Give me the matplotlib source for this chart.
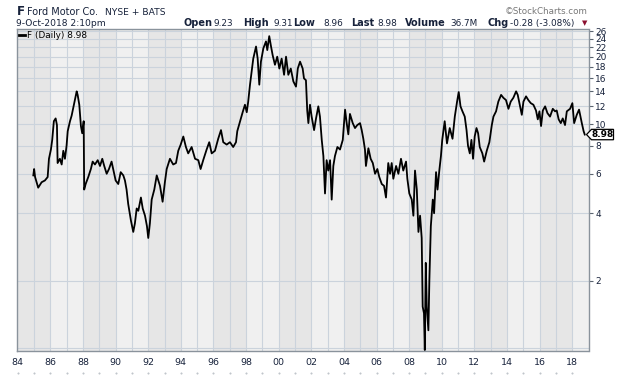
import matplotlib
matplotlib.use('Agg')
import matplotlib.pyplot as plt
from matplotlib.lines import Line2D
from matplotlib.patches import Polygon
from matplotlib.ticker import NullLocator, NullFormatter
from matplotlib.transforms import IdentityTransform, blended_transform_factory

plt.rcParams['font.family'] = ['DejaVu Sans']

# F closing prices (decimal year, USD)
dates = [
    1984.95, 1985.00, 1985.06, 1985.25, 1985.46, 1985.66, 1985.83, 1985.91,
    1986.03, 1986.11, 1986.21, 1986.32, 1986.40, 1986.44, 1986.58, 1986.69,
    1986.79, 1986.89, 1986.99, 1987.06, 1987.20, 1987.30, 1987.46, 1987.61,
    1987.67, 1987.77, 1987.87, 1987.95, 1988.04, 1988.07, 1988.16, 1988.32,
    1988.48, 1988.59, 1988.73, 1988.90, 1989.04, 1989.18, 1989.30, 1989.45,
    1989.59, 1989.75, 1989.85, 1990.00, 1990.16, 1990.31, 1990.47, 1990.57,
    1990.67, 1990.77, 1990.94, 1991.08, 1991.18, 1991.29, 1991.39, 1991.55,
    1991.66, 1991.80, 1991.92, 1992.00, 1992.10, 1992.21, 1992.37, 1992.52,
    1992.72, 1992.88, 1993.02, 1993.13, 1993.33, 1993.53, 1993.70, 1993.84,
    1993.99, 1994.15, 1994.31, 1994.45, 1994.66, 1994.87, 1995.07, 1995.21,
    1995.37, 1995.58, 1995.74, 1995.89, 1996.09, 1996.29, 1996.46, 1996.60,
    1996.81, 1997.01, 1997.21, 1997.38, 1997.46, 1997.63, 1997.79, 1997.93,
    1998.04, 1998.13, 1998.24, 1998.34, 1998.44, 1998.61, 1998.71, 1998.81,
    1998.91, 1999.06, 1999.22, 1999.30, 1999.42, 1999.53, 1999.63, 1999.77,
    1999.91, 2000.04, 2000.18, 2000.33, 2000.45, 2000.59, 2000.74, 2000.90,
    2001.06, 2001.17, 2001.31, 2001.47, 2001.55, 2001.67, 2001.75, 2001.82,
    2001.92, 2002.02, 2002.17, 2002.29, 2002.43, 2002.53, 2002.64, 2002.74,
    2002.84, 2002.94, 2003.04, 2003.15, 2003.25, 2003.35, 2003.45, 2003.60,
    2003.76, 2003.93, 2004.07, 2004.17, 2004.27, 2004.37, 2004.54, 2004.68,
    2004.82, 2004.99, 2005.09, 2005.19, 2005.29, 2005.35, 2005.50, 2005.64,
    2005.77, 2005.91, 2006.05, 2006.17, 2006.32, 2006.46, 2006.58, 2006.72,
    2006.83, 2006.93, 2007.03, 2007.20, 2007.34, 2007.50, 2007.64, 2007.81,
    2007.89, 2008.01, 2008.16, 2008.26, 2008.36, 2008.47, 2008.57, 2008.67,
    2008.77, 2008.83, 2008.91, 2008.96, 2009.02, 2009.08, 2009.18, 2009.24,
    2009.33, 2009.45, 2009.53, 2009.65, 2009.74, 2009.85, 2009.95, 2010.03,
    2010.18, 2010.32, 2010.49, 2010.66, 2010.80, 2010.94, 2011.04, 2011.15,
    2011.27, 2011.41, 2011.52, 2011.61, 2011.72, 2011.82, 2011.92, 2012.02,
    2012.13, 2012.23, 2012.33, 2012.49, 2012.60, 2012.76, 2012.92, 2013.07,
    2013.17, 2013.33, 2013.47, 2013.64, 2013.78, 2013.94, 2014.09, 2014.23,
    2014.39, 2014.56, 2014.66, 2014.80, 2014.91, 2015.01, 2015.17, 2015.31,
    2015.46, 2015.62, 2015.78, 2015.89, 2015.99, 2016.09, 2016.20, 2016.34,
    2016.48, 2016.64, 2016.81, 2016.95, 2017.05, 2017.17, 2017.30, 2017.42,
    2017.56, 2017.67, 2017.87, 2018.01, 2018.12, 2018.28, 2018.42, 2018.59,
    2018.70, 2018.77,
]
prices = [
    5.9, 6.3, 5.8, 5.2, 5.5, 5.6, 5.8, 7.0,
    7.7, 8.5, 10.3, 10.6, 9.9, 6.7, 7.0, 6.6,
    7.6, 7.0, 8.0, 9.3, 10.3, 10.9, 12.4, 14.0,
    13.5, 12.2, 9.8, 9.1, 10.3, 5.1, 5.4, 5.8,
    6.3, 6.8, 6.6, 6.9, 6.5, 7.0, 6.5, 6.0,
    6.3, 6.8, 6.3, 5.6, 5.4, 6.1, 5.9, 5.6,
    5.1, 4.4, 3.7, 3.3, 3.6, 4.2, 4.1, 4.7,
    4.2, 3.9, 3.5, 3.1, 3.6, 4.6, 5.1, 5.9,
    5.3, 4.5, 5.5, 6.3, 7.0, 6.6, 6.7, 7.6,
    8.1, 8.8, 7.9, 7.4, 7.9, 7.0, 6.9, 6.3,
    6.9, 7.7, 8.3, 7.4, 7.6, 8.6, 9.4, 8.3,
    8.1, 8.3, 7.9, 8.3, 9.3, 10.3, 11.3, 12.2,
    11.3, 12.6, 15.0, 17.2, 19.6, 22.2, 19.6, 15.0,
    19.0, 21.8, 23.4, 21.4, 24.7, 22.2, 20.3, 18.4,
    20.0, 17.7, 19.6, 16.6, 20.0, 16.6, 17.7, 15.5,
    14.7, 17.7, 19.0, 17.7, 16.0, 15.7, 11.5, 10.1,
    12.2, 10.8, 9.4, 10.6, 12.0, 10.8, 8.5, 7.2,
    4.9, 6.9, 6.2, 6.9, 4.6, 6.5, 7.2, 7.9,
    7.7, 8.5, 11.6, 10.1, 9.0, 11.1, 10.1, 9.6,
    9.9, 10.1, 9.4, 8.6, 7.7, 6.5, 7.8, 7.0,
    6.7, 6.0, 6.3, 5.8, 5.4, 5.3, 4.7, 6.7,
    6.0, 6.7, 5.7, 6.5, 6.0, 7.0, 6.2, 6.8,
    5.7, 4.9, 4.6, 3.9, 6.2, 5.1, 3.3, 3.9,
    3.1, 1.53, 1.43, 0.98, 2.4, 1.53, 1.2, 2.0,
    3.5, 4.6, 4.0, 6.1, 5.1, 6.2, 7.2, 8.5,
    10.3, 8.2, 9.6, 8.6, 10.8, 12.6, 13.9, 12.0,
    11.4, 10.8, 9.4, 8.0, 7.4, 8.5, 7.0, 8.8,
    9.6, 9.1, 7.9, 7.4, 6.8, 7.6, 8.3, 9.9,
    10.8, 11.4, 12.6, 13.5, 13.1, 12.8, 11.7, 12.6,
    13.1, 14.0, 13.5, 12.0, 11.0, 12.6, 13.3, 12.8,
    12.4, 12.2, 11.5, 10.5, 11.4, 9.8, 11.5, 12.0,
    11.2, 10.8, 11.7, 11.4, 11.5, 10.5, 10.1, 10.6,
    9.9, 11.4, 11.7, 12.4, 10.1, 11.0, 11.6, 10.1,
    9.3, 8.98,
]

year_ticks = list(range(1984, 2019, 2))
year_labels = ['%02d' % (y % 100) for y in year_ticks]
price_ticks = [2, 4, 6, 8, 10, 12, 14, 16, 18, 20, 22, 24, 26]
price_grid = [1] + price_ticks
last_price = 8.98
quote_labels = ['Open', 'High', 'Low', 'Last', 'Volume', 'Chg']
quote_values = ['9.23', '9.31', '8.96', '8.98', '36.7M', '-0.28 (-3.08%)']

W, H = 620, 376
NAVY = '#17223b'
fig = plt.figure(figsize=(W / 100, H / 100), dpi=100)
fig.patch.set_facecolor('white')
ax = fig.add_axes([17 / W, 25 / H, 571.5 / W, 321.7 / H])

# alternating shaded bands + grid
ax.set_facecolor('#f0f0f0')
for y0 in range(1984, 2019, 4):
    ax.axvspan(y0, y0 + 2, color='#e6e6e6', lw=0, zorder=0)
for yr in range(1985, 2019):
    ax.axvline(yr, color='#cbd3dc', lw=0.8, zorder=1)
for p in price_grid:
    ax.axhline(p, color='#cbd3dc', lw=0.8, zorder=1)

ax.plot(dates, prices, color='black', lw=1.3, zorder=3)

ax.set_yscale('log')
ax.set_xlim(1983.95, 2019.0)
ax.set_ylim(0.97, 26.5)
ax.yaxis.tick_right()
ax.set_yticks(price_ticks, [str(p) for p in price_ticks])
ax.yaxis.set_minor_locator(NullLocator())
ax.yaxis.set_minor_formatter(NullFormatter())
ax.set_xticks(year_ticks, year_labels)
ax.tick_params(axis='y', direction='out', length=3, width=0.8, color='#5a6470',
               pad=2, labelsize=6.5, labelcolor=NAVY)
ax.tick_params(axis='x', length=0, pad=5, labelsize=6.8, labelcolor=NAVY)
for s in ax.spines.values():
    s.set_color('#8a939c')
    s.set_linewidth(1)

# small dots under the year labels
tr = blended_transform_factory(ax.transData, ax.transAxes)
ax.plot(range(1984, 2019), [-0.068] * 35, ls='none', marker='s', ms=0.5,
        color='#c0c5cb', transform=tr, clip_on=False)


def ftext(x, y, s, **kw):
    return fig.text(x / W, 1 - y / H, s, **kw)


# header
ftext(16.5, 15, 'F', fontsize=8.5, weight='bold', color=NAVY, va='baseline')
ftext(27, 15, 'Ford Motor Co.', fontsize=7.0, color=NAVY, va='baseline')
ftext(105, 15, 'NYSE + BATS', fontsize=6.6, color=NAVY, va='baseline')
ftext(588, 14, '\u00a9StockCharts.com', fontsize=6.3, color='#777777',
      ha='right', va='baseline')
ftext(16.5, 26, '9-Oct-2018 2:10pm', fontsize=6.6, color=NAVY, va='baseline')

label_x = [183, 243, 293, 351, 405, 487]
value_x = [213, 273, 323, 377, 450, 510]
for lab, lx, val, vx in zip(quote_labels, label_x, quote_values, value_x):
    ftext(lx, 26, lab, fontsize=7.0, weight='bold', color=NAVY, va='baseline')
    ftext(vx, 26, val, fontsize=6.4, color=NAVY, va='baseline')
ftext(584.5, 23.3, '\u25bc', fontsize=5, color='#8b1030', ha='center', va='center')

# legend
fig.add_artist(Line2D([19 / W, 25 / W], [1 - 34.8 / H] * 2, color='black', lw=2))
ftext(27, 37.5, 'F (Daily) 8.98', fontsize=6.4, color='black', va='baseline')

# last price tag
yd = ax.transData.transform((2018.77, last_price))[1]
tag = [(586.5, yd), (591.5, yd + 5.2), (613.5, yd + 5.2), (613.5, yd - 5.2),
       (591.5, yd - 5.2)]
fig.add_artist(Polygon(tag, closed=True, transform=IdentityTransform(),
                       fc='white', ec='black', lw=0.9))
fig.text(602.5 / W, yd / H, '8.98', fontsize=6.5, weight='bold', color='black',
         ha='center', va='center')

fig.savefig('out.png', dpi=100)
